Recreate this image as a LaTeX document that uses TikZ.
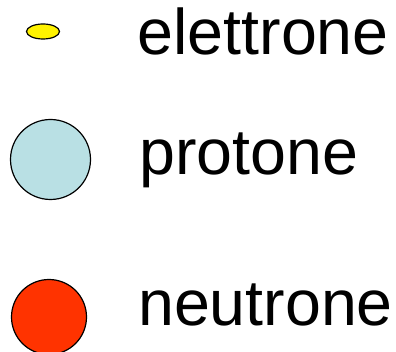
\documentclass[tikz,border=0pt]{standalone}
\usepackage{fontspec}
\setmainfont{Liberation Sans}
\begin{document}
\begin{tikzpicture}[x=1pt,y=-1pt,
  particle/.style={draw=black,line width=1.2pt},
  label/.style={inner sep=0pt,anchor=base west,font=\fontsize{64.5}{64.5}\selectfont}]
\useasboundingbox (0,0) rectangle (396,352);
% particles
\draw[particle,fill=yellow] (43,31.5) ellipse [x radius=16.5,y radius=7.5];
\draw[particle,fill={rgb,255:red,185;green,224;blue,228}] (50.5,159.5) circle [radius=40];
\draw[particle,fill={rgb,255:red,255;green,51;blue,0}] (49,317) circle [radius=37.5];
% names
\node[label] (el) at (137.5,55) {elettrone};
\node[label] (pr) at (139,175) {protone};
\node[label] (ne) at (138,326) {neutrone};
\end{tikzpicture}
\end{document}
